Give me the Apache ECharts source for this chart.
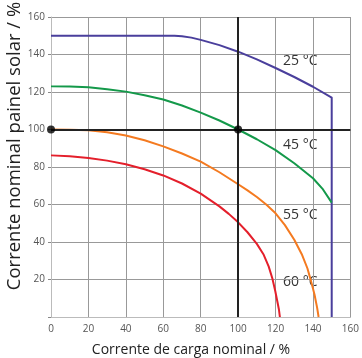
<!DOCTYPE html>
<html><head><meta charset="utf-8">
<script src="https://cdn.jsdelivr.net/npm/echarts@6/dist/echarts.min.js"></script>
<style>html,body{margin:0;padding:0;background:#fff}#c{width:362px;height:358px}</style>
</head><body><div id="c"></div>
<script>
var xTicks = [0,20,40,60,80,100,120,140,160];
var yTicks = [20,40,60,80,100,120,140,160];
var refLines = [100];
var refPoints = [[0,100],[100,100]];
var s25 = [[0,150],[66,150],[70,149.7],[75,149],[80,147.8],[90,145],[100,141.5],[110,137.4],[120,132.8],[130,128],[140,122.8],[150,117],[150,0]];
var s45 = [[0,123],[10,122.9],[20,122.5],[30,121.5],[40,120.2],[50,118.3],[60,116],[70,112.8],[80,109],[90,104.8],[100,100],[110,94.8],[120,89],[130,82],[140,74],[145,68.5],[150,61]];
var s55 = [[0,100],[10,99.9],[20,99.6],[30,98.5],[40,96.8],[50,94.3],[60,91],[70,87.2],[80,82.9],[90,77.2],[100,70.8],[105,67.5],[110,64],[115,60],[120,55.3],[125,49],[130,41.2],[134,33.5],[137,26],[139,19],[140.8,12],[142.2,5],[143,0]];
var s60 = [[0,86.2],[10,85.7],[20,84.8],[30,83.4],[40,81.5],[50,78.8],[60,75.5],[70,71.2],[80,65.8],[90,59],[95,55],[100,50.5],[105,45.2],[110,39],[113.5,33.5],[116.3,27],[118.3,20.5],[119.8,14],[120.9,8.5],[121.8,4],[122.3,0]];
var names = ['25 °C','45 °C','55 °C','60 °C'];
var colors = ['#4a3f9c','#14994a','#f47a20','#e41f2b'];

var chart = echarts.init(document.getElementById('c'));
var font = 'Open Sans, Noto Sans, sans-serif';
function line(d, i){
  return {type:'line', data:d, showSymbol:false, smooth:false, z:3,
    lineStyle:{color:colors[i], width:2, join:'round'}, animation:false};
}
chart.setOption({
  animation:false,
  grid:{left:51, right:11, top:17, bottom:41},
  xAxis:{type:'value', min:0, max:160, interval:20,
    axisLine:{show:true, lineStyle:{color:'#bbb', width:1}},
    axisTick:{show:false},
    axisLabel:{color:'#555', fontSize:10, margin:7, fontFamily:font},
    splitLine:{show:true, lineStyle:{color:'#999', width:1}}},
  yAxis:{type:'value', min:0, max:160, interval:20,
    axisLine:{show:true, lineStyle:{color:'#bbb', width:1}},
    axisTick:{show:true, length:3, lineStyle:{color:'#888'}},
    axisLabel:{color:'#555', fontSize:10, margin:6, fontFamily:font,
      formatter:function(v){return v===0?'':v;}},
    splitLine:{show:true, lineStyle:{color:'#999', width:1}}},
  graphic:[
    {type:'text', x:15, y:146, rotation:Math.PI/2,
     style:{text:'Corrente nominal painel solar / %', fill:'#222', font:'18.5px '+font, align:'center', verticalAlign:'middle'}},
    {type:'text', x:191, y:350,
     style:{text:'Corrente de carga nominal / %', fill:'#222', font:'14px '+font, align:'center', verticalAlign:'middle'}},
    {type:'text', left:283, top:54, style:{text:names[0], fill:'#333', font:'14px '+font}},
    {type:'text', left:283, top:138, style:{text:names[1], fill:'#333', font:'14px '+font}},
    {type:'text', left:283, top:208, style:{text:names[2], fill:'#333', font:'14px '+font}},
    {type:'text', left:283, top:275, style:{text:names[3], fill:'#333', font:'14px '+font}}
  ],
  series:[
    {type:'line', data:[], z:2, markLine:{silent:true, symbol:'none', animation:false,
      lineStyle:{color:'#222', width:2, type:'solid'}, label:{show:false},
      data:[{xAxis:refLines[0]},{yAxis:refLines[0]}]}},
    line(s25,0), line(s45,1), line(s55,2), line(s60,3),
    {type:'scatter', data:refPoints, symbolSize:8, itemStyle:{color:'#000'}, z:5}
  ]
});
</script></body></html>
